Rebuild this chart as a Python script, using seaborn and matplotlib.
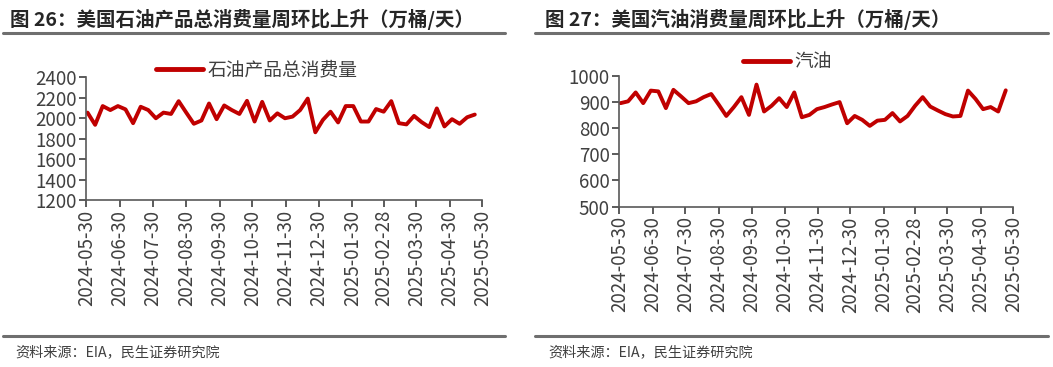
import pandas as pd
import matplotlib.pyplot as plt
import seaborn as sns
from matplotlib.lines import Line2D

# weekly EIA data, week ending
start_date = "2024-05-31"
n_weeks = 52

total_products = [2053, 1934, 2117, 2078, 2117, 2085, 1950, 2110, 2078, 1998,
                  2053, 2040, 2165, 2053, 1944, 1976, 2142, 1989, 2123, 2078,
                  2040, 2168, 1966, 2158, 1976, 2046, 1998, 2014, 2078, 2190,
                  1861, 1982, 2062, 1957, 2117, 2117, 1966, 1966, 2088, 2062,
                  2165, 1950, 1938, 2021, 1960, 1912, 2094, 1918, 1989, 1944,
                  2008, 2034]

gasoline = [896, 903, 937, 896, 944, 941, 877, 947, 922, 896,
            903, 919, 931, 890, 847, 881, 919, 851, 967, 864,
            886, 915, 881, 937, 842, 851, 873, 881, 891, 900,
            819, 847, 832, 809, 829, 832, 858, 826, 847, 886,
            919, 883, 868, 854, 845, 847, 944, 912, 873, 881,
            864, 945]

tick_labels = ["2024-05-30", "2024-06-30", "2024-07-30", "2024-08-30",
               "2024-09-30", "2024-10-30", "2024-11-30", "2024-12-30",
               "2025-01-30", "2025-02-28", "2025-03-30", "2025-04-30",
               "2025-05-30"]

dates = pd.date_range(start_date, periods=n_weeks, freq="7D")
df = pd.DataFrame({"date": dates, "total": total_products, "gasoline": gasoline})

sns.set_theme(style="white")
plt.rcParams["font.family"] = ["Noto Sans CJK SC", "DejaVu Sans"]

RED = "#C00000"
GRAY = "#404040"

fig = plt.figure(figsize=(10.53, 3.67), dpi=100)
ax1 = fig.add_axes([0.0821, 0.455, 0.376, 0.335])
ax2 = fig.add_axes([0.5883, 0.437, 0.374, 0.356])

ticks = pd.to_datetime(tick_labels)


def style_axis(ax, ylim, ystep):
    ax.set_xlim(ticks[0], ticks[-1])
    ax.set_ylim(*ylim)
    ax.set_yticks(range(ylim[0], ylim[1] + 1, ystep))
    ax.set_xticks(ticks)
    ax.set_xticklabels(tick_labels, rotation=90)
    ax.tick_params(axis="both", colors=GRAY, labelsize=13.5, length=5,
                   width=1.2, direction="out", left=True, bottom=True, pad=2)
    for side in ["top", "right"]:
        ax.spines[side].set_visible(False)
    for side in ["left", "bottom"]:
        ax.spines[side].set_color("#595959")
        ax.spines[side].set_linewidth(1.2)
    ax.set_xlabel("")
    ax.set_ylabel("")


sns.lineplot(data=df, x="date", y="total", ax=ax1, color=RED, linewidth=2.8)
style_axis(ax1, (1200, 2400), 200)
ax1.legend(handles=[Line2D([], [], color=RED, lw=3.5)], labels=["石油产品总消费量"],
           loc="center", bbox_to_anchor=(0.43, 1.057), frameon=False,
           fontsize=13.5, handlelength=2.5, handletextpad=0.25,
           labelcolor=GRAY)

sns.lineplot(data=df, x="date", y="gasoline", ax=ax2, color=RED, linewidth=2.8)
style_axis(ax2, (500, 1000), 100)
ax2.legend(handles=[Line2D([], [], color=RED, lw=3.5)], labels=["汽油"],
           loc="center", bbox_to_anchor=(0.426, 1.107), frameon=False,
           fontsize=13.5, handlelength=2.5, handletextpad=0.25,
           labelcolor=GRAY)

# titles, rules and sources
fig.text(10 / 1053, 1 - 19 / 367, "图 26：美国石油产品总消费量周环比上升（万桶/天）",
         fontsize=14, fontweight="bold", color="#262626", va="center")
fig.text(545 / 1053, 1 - 19 / 367, "图 27：美国汽油消费量周环比上升（万桶/天）",
         fontsize=14, fontweight="bold", color="#262626", va="center")

for x0, x1 in [(3, 505), (535, 1048)]:
    fig.add_artist(Line2D([x0 / 1053, x1 / 1053], [1 - 33 / 367] * 2,
                          color="#6f6f6f", lw=2.2))
    fig.add_artist(Line2D([x0 / 1053, x1 / 1053], [1 - 336 / 367] * 2,
                          color="#6f6f6f", lw=2.2))

fig.text(15 / 1053, 1 - 352 / 367, "资料来源：EIA，民生证券研究院",
         fontsize=10.2, color=GRAY, va="center")
fig.text(548 / 1053, 1 - 352 / 367, "资料来源：EIA，民生证券研究院",
         fontsize=10.2, color=GRAY, va="center")

fig.savefig("out.png", dpi=100, facecolor="white")
